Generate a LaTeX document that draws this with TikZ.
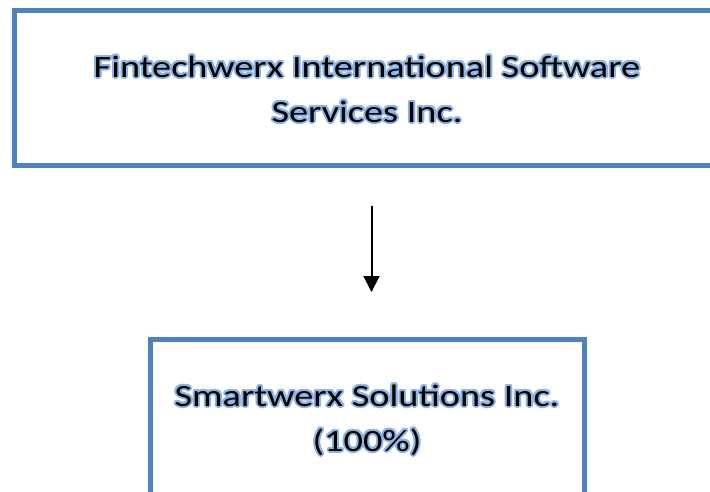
\documentclass[tikz,border=0pt]{standalone}
\usepackage{fontspec}
\setmainfont{Carlito}[FakeStretch=1.235]
\usetikzlibrary{arrows.meta}
\definecolor{boxblue}{HTML}{4F81BD}
\definecolor{glowc}{HTML}{8EB4E3}
\newcommand\gl[1]{\leavevmode\rlap{\color{glowc}%
\rlap{\kern2pt#1}\rlap{\kern-2pt#1}%
\rlap{\raisebox{2pt}{#1}}\rlap{\raisebox{-2pt}{#1}}%
\rlap{\kern1.4pt\raisebox{1.4pt}{#1}}\rlap{\kern-1.4pt\raisebox{1.4pt}{#1}}%
\rlap{\kern1.4pt\raisebox{-1.4pt}{#1}}\rlap{\kern-1.4pt\raisebox{-1.4pt}{#1}}%
\rlap{\kern1.8pt\raisebox{0.8pt}{#1}}\rlap{\kern-1.8pt\raisebox{0.8pt}{#1}}%
\rlap{\kern1.8pt\raisebox{-0.8pt}{#1}}\rlap{\kern-1.8pt\raisebox{-0.8pt}{#1}}%
\rlap{\kern0.8pt\raisebox{1.8pt}{#1}}\rlap{\kern-0.8pt\raisebox{1.8pt}{#1}}%
\rlap{\kern0.8pt\raisebox{-1.8pt}{#1}}\rlap{\kern-0.8pt\raisebox{-1.8pt}{#1}}}#1}
\tikzset{
  orgbox/.style={draw=boxblue, line width=5pt, minimum height=155pt, inner sep=0pt},
  lbl/.style={anchor=base, inner sep=0pt, font=\fontsize{31}{37}\selectfont, text=black},
  arr/.style={line width=2pt, -{Triangle[length=16pt,width=16pt]}}
}
\begin{document}
\begin{tikzpicture}[x=1pt,y=-1pt]
\useasboundingbox (0,0) rectangle (710,491);
\clip (0,0) rectangle (710,491);
\fill[white] (0,0) rectangle (710,491);
\node[orgbox, minimum width=706pt] (top) at (367,87.5) {};
\node[orgbox, minimum width=434pt] (bot) at (367,417) {};
\node[lbl] (ft1) at (367,77) {\gl{Fintechwerx International Software}};
\node[lbl] (ft2) at (367,122) {\gl{Services Inc.}};
\node[lbl] (st1) at (367,406) {\gl{Smartwerx Solutions Inc.}};
\node[lbl] (st2) at (367,451) {\gl{(100\%)}};
\draw[arr] ([xshift=4.5pt,yshift=-38pt]top.south) -- ([xshift=4.5pt,yshift=45pt]bot.north);
\end{tikzpicture}
\end{document}
